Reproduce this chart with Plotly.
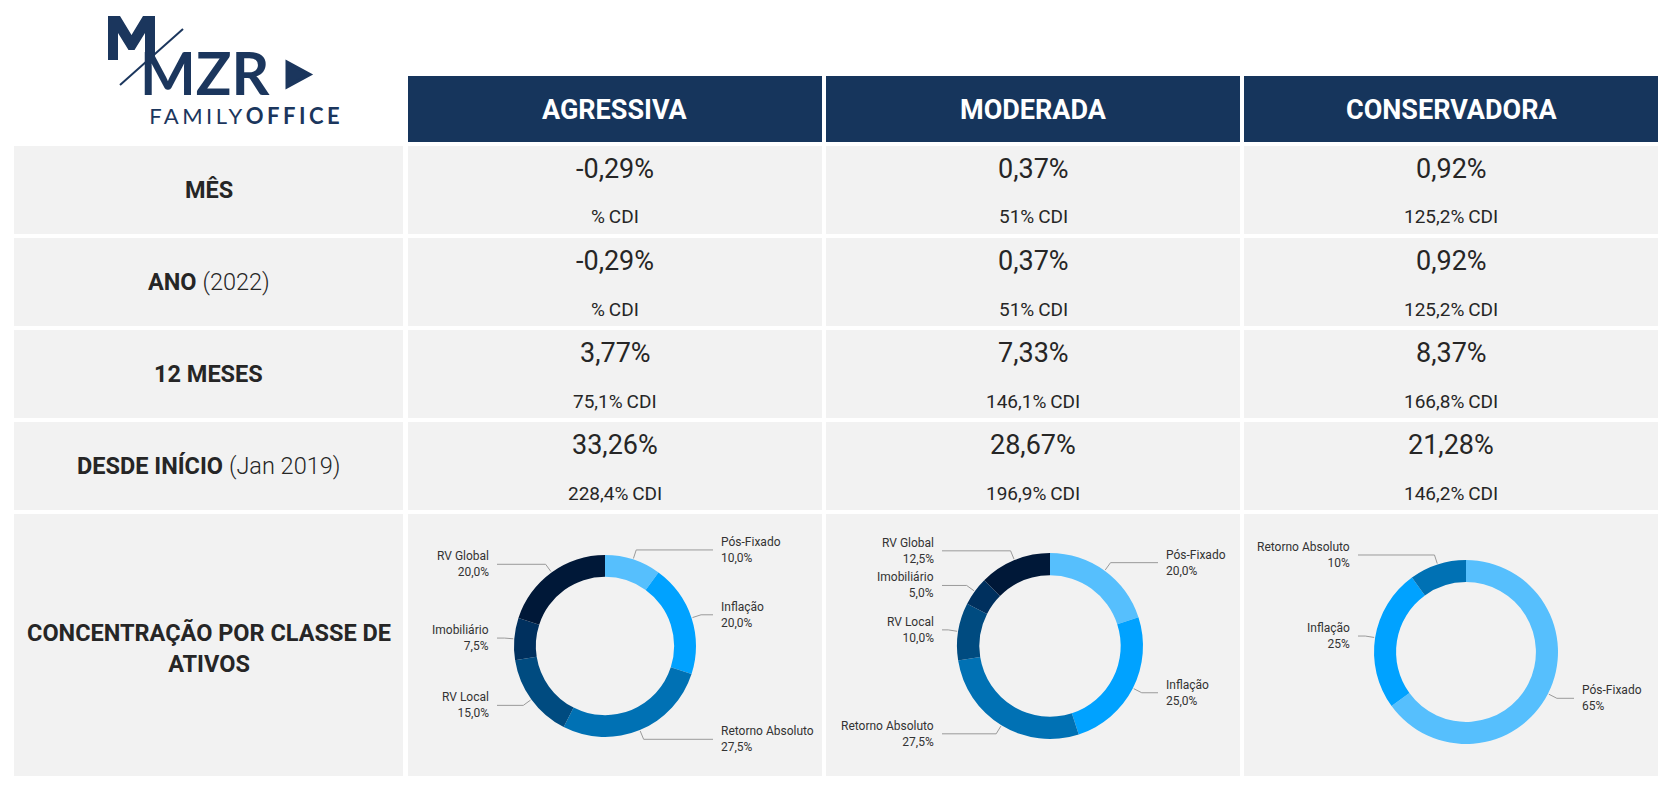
import math
import plotly.graph_objects as go

# the page body adds 8px around the figure
OFF = 8
W, H = 1660, 778

# table content
profiles = ["AGRESSIVA", "MODERADA", "CONSERVADORA"]
row_labels = [
    "<b>MÊS</b>",
    "<b>ANO</b> <span style='font-weight:300'>(2022)</span>",
    "<b>12 MESES</b>",
    "<b>DESDE INÍCIO</b> <span style='font-weight:300'>(Jan 2019)</span>",
    "<b>CONCENTRAÇÃO POR CLASSE DE</b><br><b>ATIVOS</b>",
]
ret_agressiva = ["-0,29%", "-0,29%", "3,77%", "33,26%"]
cdi_agressiva = ["% CDI", "% CDI", "75,1% CDI", "228,4% CDI"]
ret_moderada = ["0,37%", "0,37%", "7,33%", "28,67%"]
cdi_moderada = ["51% CDI", "51% CDI", "146,1% CDI", "196,9% CDI"]
ret_conservadora = ["0,92%", "0,92%", "8,37%", "21,28%"]
cdi_conservadora = ["125,2% CDI", "125,2% CDI", "166,8% CDI", "146,2% CDI"]

# asset allocation per profile (clockwise from 12 o'clock)
classes_agressiva = ["Pós-Fixado", "Inflação", "Retorno Absoluto", "RV Local", "Imobiliário", "RV Global"]
weights_agressiva = [10.0, 20.0, 27.5, 15.0, 7.5, 20.0]
classes_moderada = ["Pós-Fixado", "Inflação", "Retorno Absoluto", "RV Local", "Imobiliário", "RV Global"]
weights_moderada = [20.0, 25.0, 27.5, 10.0, 5.0, 12.5]
classes_conservadora = ["Pós-Fixado", "Inflação", "Retorno Absoluto"]
weights_conservadora = [65, 25, 10]

class_colors = {
    "Pós-Fixado": "#56BFFD",
    "Inflação": "#00A2FF",
    "Retorno Absoluto": "#0071B4",
    "RV Local": "#004B80",
    "Imobiliário": "#00305E",
    "RV Global": "#001838",
}

NAVY = "#16355C"
CELL = "#F2F2F2"
TXT = "#262626"
FONT = "Roboto"


def px(x):
    return (x - OFF) / W


def py(y):
    return 1 - (y - OFF) / H


# layout grid (screen pixels)
col_x = [(14, 403), (408, 822), (826, 1240), (1244, 1658)]
head_y = (76, 142)
row_y = [(146, 234), (238, 326), (330, 418), (422, 510), (514, 776)]

fig = go.Figure()
shapes = []
annotations = []


def rect(x0, y0, x1, y1, color):
    shapes.append(dict(type="rect", xref="paper", yref="paper",
                       x0=px(x0), x1=px(x1), y0=py(y1), y1=py(y0),
                       fillcolor=color, line=dict(width=0), layer="below"))


def text(x, y, s, size, color=TXT, xanchor="center", align="center", family=FONT):
    annotations.append(dict(x=px(x), y=py(y), xref="paper", yref="paper", text=s,
                            showarrow=False, xanchor=xanchor, yanchor="middle", align=align,
                            font=dict(family=family, size=size, color=color)))


# header
for i, name in enumerate(profiles):
    x0, x1 = col_x[i + 1]
    rect(x0, head_y[0], x1, head_y[1], NAVY)
    text((x0 + x1) / 2, (head_y[0] + head_y[1]) / 2 + 1, "<b>" + name + "</b>", 27, "white")

# rows
rets = [ret_agressiva, ret_moderada, ret_conservadora]
cdis = [cdi_agressiva, cdi_moderada, cdi_conservadora]
for r, (y0, y1) in enumerate(row_y):
    for c, (x0, x1) in enumerate(col_x):
        rect(x0, y0, x1, y1, CELL)
    lx = (col_x[0][0] + col_x[0][1]) / 2
    text(lx, (y0 + y1) / 2 + (3 if r == 4 else 0), row_labels[r], 23.5)
    if r < 4:
        for c in range(3):
            x0, x1 = col_x[c + 1]
            text((x0 + x1) / 2, y0 + 23, rets[c][r], 27)
            text((x0 + x1) / 2, y0 + 71, cdis[c][r].replace(" ", "\u2009"), 19)

# donuts
donuts = [
    (classes_agressiva, weights_agressiva, 1, 605, 646, 89),
    (classes_moderada, weights_moderada, 1, 1050, 646, 91),
    (classes_conservadora, weights_conservadora, 0, 1466, 652, 90),
]

for classes, weights, dec, cx, cy, rad in donuts:
    fig.add_trace(go.Pie(
        labels=classes, values=weights, sort=False, direction="clockwise", rotation=0,
        hole=0.76, textinfo="none", hoverinfo="label+percent", showlegend=False,
        marker=dict(colors=[class_colors[k] for k in classes], line=dict(width=0)),
        domain=dict(x=[px(cx - rad - 2), px(cx + rad + 2)], y=[py(cy + rad + 2), py(cy - rad - 2)]),
    ))
    total = sum(weights)
    acc = 0
    for k, w in zip(classes, weights):
        mid = (acc + w / 2) / total * 2 * math.pi
        acc += w
        sx, sy = math.sin(mid), -math.cos(mid)
        p0 = (cx + (rad + 3) * sx, cy + (rad + 3) * sy)
        p1 = (cx + (rad + 12) * sx, cy + (rad + 12) * sy)
        right = sx >= 0
        lab_x = cx + 114 if right else cx - 114
        end_x = lab_x - 6 if right else lab_x + 6
        path = "M {},{} L {},{} L {},{}".format(px(p0[0]), py(p0[1]), px(p1[0]), py(p1[1]),
                                              px(end_x), py(p1[1]))
        shapes.append(dict(type="path", xref="paper", yref="paper", path=path,
                           line=dict(color="#9A9A9A", width=1)))
        val = ("{:.%df}%%" % dec).format(w).replace(".", ",")
        text(lab_x, p1[1], k + "<br>" + val, 12, "#333333",
             xanchor="left" if right else "right", align="left" if right else "right")

# logo
LOGO = "#1B365D"
m_pts = [(108, 60), (108, 16), (120, 16), (131.5, 35), (143, 16), (155, 16), (155, 60),
         (145, 60), (145, 33), (134.5, 50), (128.5, 50), (118, 33), (118, 60)]
shapes.append(dict(type="path", xref="paper", yref="paper",
                   path="M " + " L ".join("{},{}".format(px(a), py(b)) for a, b in m_pts) + " Z",
                   fillcolor=LOGO, line=dict(width=0)))
shapes.append(dict(type="path", xref="paper", yref="paper",
                   path="M {},{} L {},{} L {},{} Z".format(px(287), py(62), px(287), py(87), px(310), py(74.5)),
                   fillcolor=LOGO, line=dict(color=LOGO, width=3)))
shapes.append(dict(type="line", xref="paper", yref="paper",
                   x0=px(120), y0=py(85), x1=px(183), y1=py(29),
                   line=dict(color=LOGO, width=2)))
text(138, 83,
     "<span style='font-size:59px'><b>MZR</b></span><br>"
     "<span style='letter-spacing:3.5px'>\u00a0FAMILY<b>OFFICE</b></span>",
     22, LOGO, xanchor="left", align="left", family="Lato")

fig.update_layout(
    width=W, height=H, margin=dict(l=0, r=0, t=0, b=0),
    paper_bgcolor="white", plot_bgcolor="white",
    shapes=shapes, annotations=annotations,
)

fig.write_html("out.html")
